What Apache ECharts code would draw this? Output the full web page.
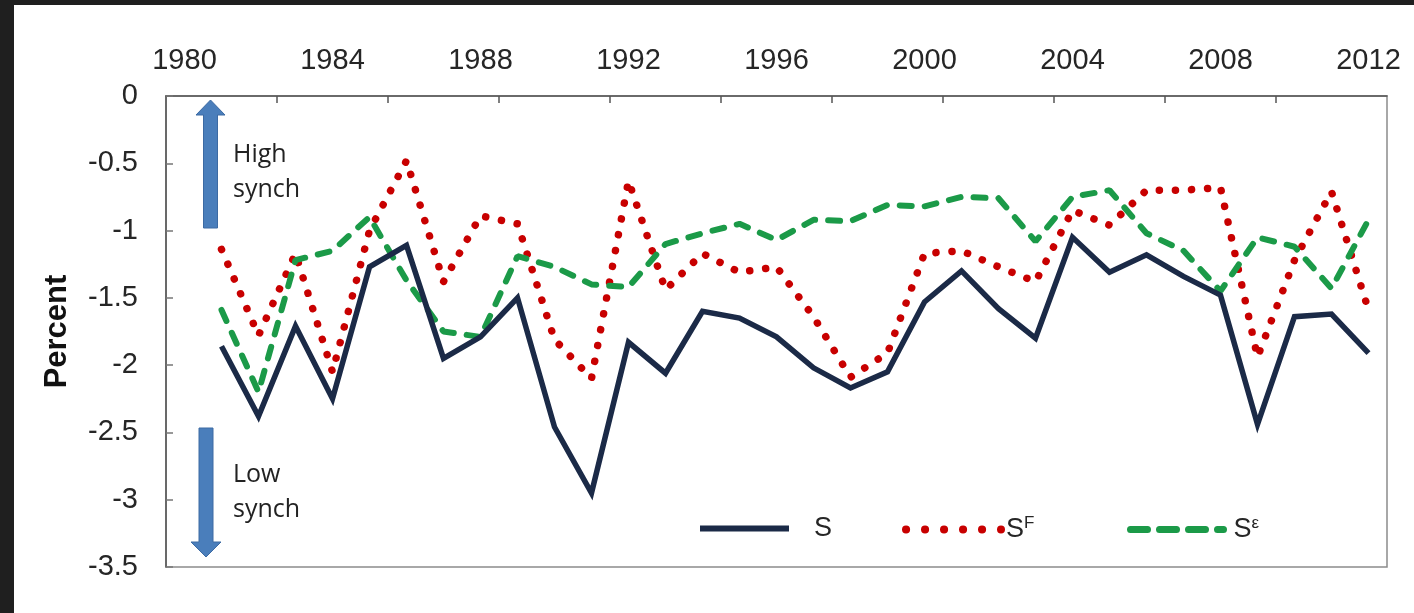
<!DOCTYPE html>
<html>
<head>
<meta charset="utf-8">
<script src="https://cdn.jsdelivr.net/npm/echarts@6/dist/echarts.min.js"></script>
<style>
  html, body { margin: 0; padding: 0; background: #1f1f1f; }
  #chart {
    position: absolute;
    left: 14px;
    top: 5px;
    width: 1400px;
    height: 608px;
    background: #ffffff;
  }
</style>
</head>
<body>
<div id="chart"></div>
<script>
const years = [1981, 1982, 1983, 1984, 1985, 1986, 1987, 1988, 1989, 1990, 1991,
  1992, 1993, 1994, 1995, 1996, 1997, 1998, 1999, 2000, 2001, 2002,
  2003, 2004, 2005, 2006, 2007, 2008, 2009, 2010, 2011, 2012]

// S (solid)
const sValues = [-1.86, -2.38, -1.71, -2.25, -1.27, -1.11, -1.95, -1.79, -1.50, -2.46, -2.95,
  -1.83, -2.06, -1.60, -1.65, -1.79, -2.02, -2.17, -2.05, -1.53, -1.30, -1.58,
  -1.80, -1.05, -1.31, -1.18, -1.34, -1.48, -2.44, -1.64, -1.62, -1.91]

// S^F (dotted)
const sfValues = [-1.14, -1.78, -1.17, -2.05, -1.00, -0.48, -1.38, -0.89, -0.95, -1.81, -2.10,
  -0.63, -1.44, -1.17, -1.31, -1.27, -1.64, -2.09, -1.91, -1.17, -1.15, -1.27,
  -1.38, -0.85, -0.96, -0.70, -0.70, -0.68, -1.94, -1.22, -0.71, -1.59]

// S^e (dashed)
const seValues = [-1.59, -2.20, -1.22, -1.15, -0.90, -1.37, -1.75, -1.79, -1.19, -1.27, -1.40,
  -1.42, -1.10, -1.02, -0.95, -1.07, -0.92, -0.93, -0.81, -0.82, -0.75, -0.76,
  -1.08, -0.75, -0.70, -1.02, -1.15, -1.45, -1.05, -1.12, -1.43, -0.92]

const yearLabels = [1980, 1984, 1988, 1992, 1996, 2000, 2004, 2008, 2012]
const tickYears = [1982.5, 1985.5, 1988.5, 1991.5, 1994.5, 1997.5, 2000.5, 2003.5, 2006.5, 2009.5]

const seriesNames = ['S', 'SF', 'Sε']

const pair = (vals) => years.map((y, i) => [y, vals[i]])

const chartInstance = echarts.init(document.getElementById('chart'))

const textColor = '#262626'
const fontFamily = 'Liberation Sans, Arial, sans-serif'
const navy = '#1b2a47'
const red = '#c80000'
const green = '#1b9a48'

const legendText = (padLeft) => ({
  fontFamily,
  fontSize: 27,
  color: textColor,
  padding: [0, 0, 0, padLeft],
  rich: {
    sup: {
      fontFamily,
      fontSize: 17,
      color: textColor,
      verticalAlign: 'top',
      padding: [0, 0, 12, 0],
    },
  },
})

const legendFormatter = (name) => {
  if (name === 'SF') return 'S{sup|F}'
  if (name === 'Sε') return 'S{sup|ε}'
  return name
}

const option = {
  backgroundColor: '#ffffff',
  animation: false,
  grid: {
    left: 152,
    top: 91,
    width: 1221,
    height: 471,
    show: true,
    borderColor: '#8c8c8c',
    borderWidth: 1.5,
  },
  xAxis: {
    type: 'value',
    position: 'top',
    min: 1979.5,
    max: 2012.5,
    splitLine: { show: false },
    axisLine: { show: true, lineStyle: { color: '#555', width: 1.5 } },
    axisTick: {
      show: true,
      inside: true,
      length: 7,
      customValues: tickYears,
      lineStyle: { color: '#555', width: 1.5 },
    },
    axisLabel: {
      customValues: yearLabels,
      fontFamily,
      fontSize: 29,
      color: textColor,
      margin: 21,
      formatter: (v) => String(v),
    },
  },
  yAxis: {
    type: 'value',
    min: -3.5,
    max: 0,
    interval: 0.5,
    name: 'Percent',
    nameLocation: 'middle',
    nameGap: 93,
    nameTextStyle: {
      fontFamily,
      fontSize: 31,
      fontWeight: 'bold',
      color: '#111',
    },
    splitLine: { show: false },
    axisLine: { show: true, lineStyle: { color: '#555', width: 1.5 } },
    axisTick: { show: true, inside: true, length: 7, lineStyle: { color: '#777', width: 1.5 } },
    axisLabel: {
      fontFamily,
      fontSize: 29,
      color: textColor,
      margin: 28,
    },
  },
  legend: [
    {
      left: 678,
      top: 505,
      itemWidth: 89,
      itemHeight: 14,
      itemStyle: { opacity: 0 },
      lineStyle: { width: 6, color: navy, type: 'solid' },
      textStyle: legendText(20),
      formatter: legendFormatter,
      data: [seriesNames[0]],
    },
    {
      left: 883,
      top: 505,
      itemWidth: 95,
      itemHeight: 14,
      itemStyle: { opacity: 0 },
      lineStyle: { width: 8, color: red, type: [0.1, 18.9], cap: 'round' },
      textStyle: legendText(0),
      formatter: legendFormatter,
      data: [seriesNames[1]],
    },
    {
      left: 1108,
      top: 505,
      itemWidth: 93,
      itemHeight: 14,
      itemStyle: { opacity: 0 },
      lineStyle: { width: 7, color: green, type: [17, 12], cap: 'round' },
      textStyle: legendText(5),
      formatter: legendFormatter,
      data: [seriesNames[2]],
    },
  ],
  series: [
    {
      name: seriesNames[0],
      type: 'line',
      data: pair(sValues),
      symbol: 'none',
      z: 3,
      lineStyle: { color: navy, width: 5.5, join: 'miter' },
      itemStyle: { color: navy },
    },
    {
      name: seriesNames[1],
      type: 'line',
      data: pair(sfValues),
      symbol: 'none',
      z: 2,
      lineStyle: { color: red, width: 7.5, type: [0.1, 16], cap: 'round' },
      itemStyle: { color: red },
    },
    {
      name: seriesNames[2],
      type: 'line',
      data: pair(seValues),
      symbol: 'none',
      z: 2,
      lineStyle: { color: green, width: 6, type: [12, 13], cap: 'round' },
      itemStyle: { color: green },
    },
  ],
}

chartInstance.setOption(option)

// annotation arrows and captions
const arrowColor = '#4a7ebb'
const arrowStroke = '#3c6aa3'
chartInstance.setOption({
  graphic: [
    {
      type: 'polygon',
      shape: {
        points: [[196.5, 95], [211, 110], [203.5, 110], [203.5, 223], [189.5, 223], [189.5, 110], [182, 110]],
      },
      style: { fill: arrowColor, stroke: arrowStroke, lineWidth: 1 },
    },
    {
      type: 'polygon',
      shape: {
        points: [[192, 552], [207, 537], [199, 537], [199, 423], [185, 423], [185, 537], [177, 537]],
      },
      style: { fill: arrowColor, stroke: arrowStroke, lineWidth: 1 },
    },
    {
      type: 'text',
      left: 219,
      top: 132,
      style: {
        text: 'High\nsynch',
        font: '25px "Open Sans", sans-serif',
        lineHeight: 35,
        fill: '#222',
      },
    },
    {
      type: 'text',
      left: 219,
      top: 452,
      style: {
        text: 'Low\nsynch',
        font: '25px "Open Sans", sans-serif',
        lineHeight: 35,
        fill: '#222',
      },
    },
  ],
})

window.addEventListener('resize', () => {
  chartInstance.resize()
})
</script>
</body>
</html>
